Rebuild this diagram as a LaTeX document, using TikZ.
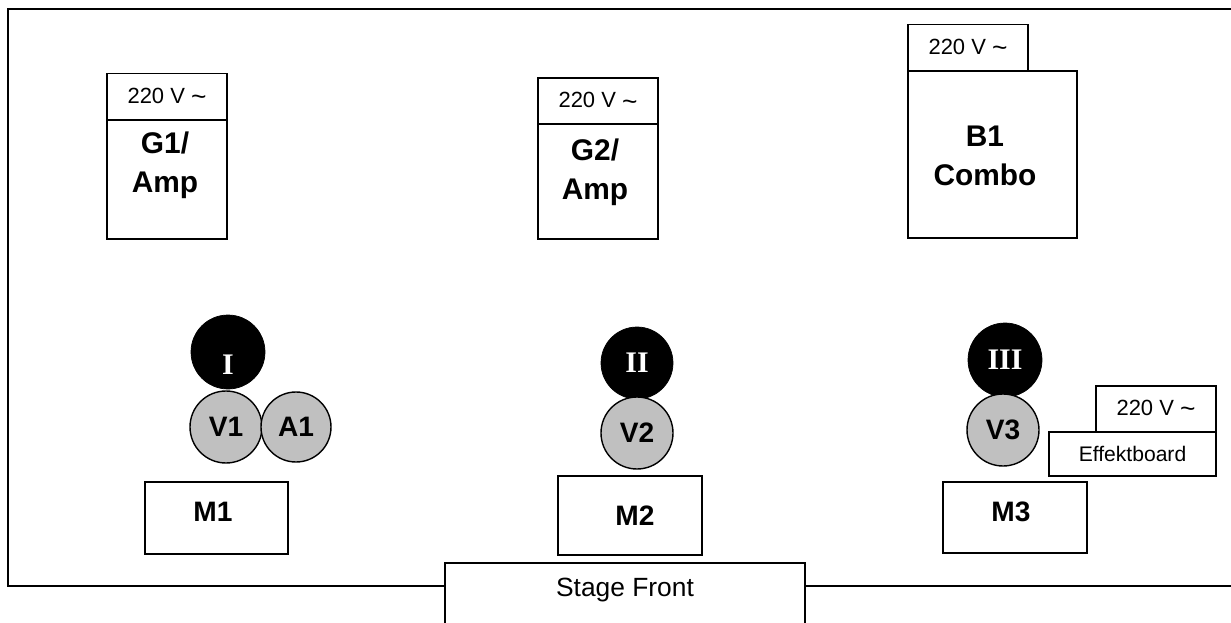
\documentclass[tikz,border=0pt]{standalone}
\usepackage{fontspec}
\setmainfont{Liberation Sans}
\newfontfamily\romanfont{Liberation Serif}
\usepackage{xcolor}
\usepackage{tikz}
\definecolor{voxgray}{RGB}{192,192,192}

\begin{document}
\begin{tikzpicture}[
  x=0.2mm, y=-0.2mm,
  unit/.style={
    rectangle,
    draw=black,
    fill=white,
    line width=1pt,
    inner sep=0pt
  },
  plug/.style={
    unit,
    minimum width=24mm,
    minimum height=9.4mm,
    font=\fontsize{12.5}{14}\selectfont
  },
  unittext/.style={
    align=center,
    inner sep=0pt,
    font=\fontsize{17}{22}\selectfont\bfseries
  },
  mictext/.style={
    inner sep=0pt,
    font=\fontsize{16}{19}\selectfont\bfseries
  },
  numtext/.style={
    inner sep=0pt,
    text=white,
    font=\fontsize{17}{20}\selectfont\romanfont\bfseries
  },
  singer/.style={
    circle,
    draw=black,
    fill=black,
    minimum size=#1,
    inner sep=0pt,
    text=white,
    font=\fontsize{17}{20}\selectfont\romanfont\bfseries
  },
  vox/.style={
    circle,
    draw=black,
    fill=voxgray,
    line width=0.8pt,
    minimum size=#1,
    inner sep=0pt,
    font=\fontsize{16}{19}\selectfont\bfseries
  }
]
\useasboundingbox (0,0) rectangle (1231,623);

% stage outline
\draw[line width=1.1pt] (1240,9) -- (8,9) -- (8,586) -- (1240,586);

% ===================== amps =====================
\node[plug] (g1v) at (167,97) {220 V \raisebox{-1.5pt}{\fontsize{15}{15}\selectfont\textasciitilde}};
\node[unit, minimum width=24mm, minimum height=23.8mm] (g1) at (167,179.5) {};
\node[unittext] (g1t) at (165,165) {G1/\\Amp};

\node[plug] (g2v) at (598,101.5) {220 V \raisebox{-1.5pt}{\fontsize{15}{15}\selectfont\textasciitilde}};
\node[unit, minimum width=24mm, minimum height=23mm] (g2) at (598,181.5) {};
\node[unittext] (g2t) at (595,172) {G2/\\Amp};

\node[plug] (b1v) at (968,48) {220 V \raisebox{-1.5pt}{\fontsize{15}{15}\selectfont\textasciitilde}};
\node[unit, minimum width=33.8mm, minimum height=33.4mm] (b1) at (992.5,154.5) {};
\node[unittext] (b1t) at (985,156) {B1\\Combo};

% ===================== singers =====================
\node[singer=14.8mm] (s1) at (228,352) {};
\node[numtext] (s1t) at (228,365) {I};
\node[vox=14.4mm] (v1) at (226,427) {V1};
\node[vox=14mm]   (a1) at (296,427) {A1};

\node[singer=14.4mm] (s2) at (637,363) {II};
\node[vox=14.4mm]    (v2) at (637,433) {V2};

\node[singer=14.8mm] (s3) at (1005,360) {III};
\node[vox=14.4mm]    (v3) at (1003,430) {V3};

% effects board
\node[plug, minimum height=9.2mm] (efv) at (1156,409) {220 V \raisebox{-1.5pt}{\fontsize{15}{15}\selectfont\textasciitilde}};
\node[unit, minimum width=33.4mm, minimum height=8.8mm,
      font=\fontsize{12}{14}\selectfont] (ef) at (1132.5,454) {Effektboard};

% ===================== monitors =====================
\node[unit, minimum width=28.6mm, minimum height=14.4mm] (m1) at (216.5,518) {};
\node[mictext] (m1t) at (213,512) {M1};
\node[unit, minimum width=28.8mm, minimum height=15.8mm] (m2) at (630,515.5) {};
\node[mictext] (m2t) at (635,516) {M2};
\node[unit, minimum width=28.8mm, minimum height=14.2mm] (m3) at (1015,517.5) {};
\node[mictext] (m3t) at (1011,512) {M3};

% front of stage
\node[unit, minimum width=72mm, minimum height=15.4mm] (front) at (625,601.5) {};
\node[font=\fontsize{15}{18}\selectfont, inner sep=0pt] (frontt) at (625,590) {Stage Front};

\end{tikzpicture}
\end{document}
